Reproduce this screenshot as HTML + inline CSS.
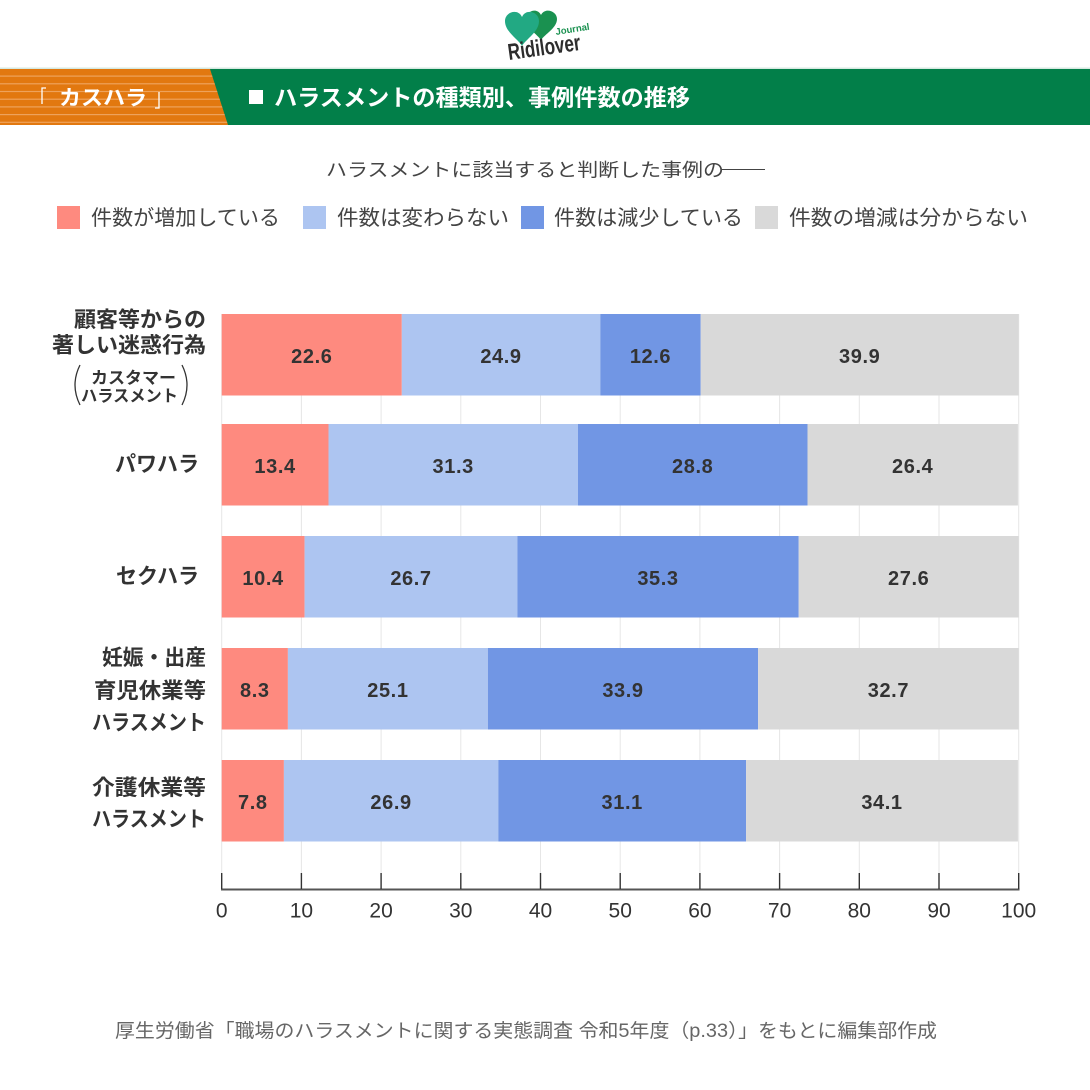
<!DOCTYPE html>
<html><head><meta charset="utf-8">
<style>
html,body{margin:0;padding:0;background:#fff;}
svg{display:block;}
text{font-family:"Liberation Sans","Noto Sans CJK JP",sans-serif;}
</style></head>
<body>
<svg width="1090" height="1090" viewBox="0 0 1090 1090" xmlns="http://www.w3.org/2000/svg">
<rect width="1090" height="1090" fill="#fff"/>
<defs>
<clipPath id="oc"><polygon points="0,69 210,69 228,125 0,125"/></clipPath>
</defs>

<!-- logo -->
<path d="M541,40 C537,34 526,28 526,19 C526,11 537,7 541,15 C545,7 557,11 557,19 C557,28 545,34 541,40 Z" fill="#1a9150"/>
<path d="M522,46 C518,39 505,32 505,21 C505,12 518,8 522,17 C526,8 539,12 539,21 C539,32 526,39 522,46 Z" fill="#22a983"/>
<text x="556" y="35" font-size="9.5" font-weight="700" fill="#1a9150" transform="rotate(-9 556 35)">Journal</text>
<text x="509" y="60" font-size="23" font-weight="700" fill="#2d2d2d" textLength="73" lengthAdjust="spacingAndGlyphs" transform="rotate(-8 509 60)">Ridilover</text>

<!-- header band -->
<rect x="0" y="67.5" width="1090" height="1.5" fill="#d6e9e0"/>
<rect x="0" y="69" width="1090" height="56" fill="#027f49"/>
<polygon points="0,69 210,69 228,125 0,125" fill="#e2780f"/>
<g clip-path="url(#oc)" fill="#eea25b">
<rect x="0" y="75.5" width="240" height="1.2"/>
<rect x="0" y="83.2" width="240" height="1.2"/>
<rect x="0" y="90.9" width="240" height="1.2"/>
<rect x="0" y="98.6" width="240" height="1.2"/>
<rect x="0" y="106.3" width="240" height="1.2"/>
<rect x="0" y="114" width="240" height="1.2"/>
<rect x="0" y="121.7" width="240" height="1.2"/>
</g>
<path d="M46,88 L42,88 L42,104" stroke="#fff" stroke-width="1.3" fill="none"/>
<path d="M155,108 L159,108 L159,92" stroke="#fff" stroke-width="1.3" fill="none"/>
<text x="59" y="105" font-size="21" font-weight="700" fill="#fff" textLength="88" lengthAdjust="spacingAndGlyphs">カスハラ</text>
<rect x="249" y="90" width="14" height="14" fill="#fff"/>
<text x="274" y="105.5" font-size="23" font-weight="700" fill="#fff" textLength="416" lengthAdjust="spacingAndGlyphs">ハラスメントの種類別、事例件数の推移</text>

<!-- subtitle -->
<text x="326" y="176.5" font-size="18.5" fill="#444" textLength="398" lengthAdjust="spacingAndGlyphs">ハラスメントに該当すると判断した事例の</text>
<line x1="722" y1="169.5" x2="765" y2="169.5" stroke="#444" stroke-width="1.1"/>

<!-- legend -->
<rect x="57" y="206" width="23" height="23" fill="#fe8a7f"/>
<text x="91" y="225" font-size="21" fill="#444" textLength="189" lengthAdjust="spacingAndGlyphs">件数が増加している</text>
<rect x="303" y="206" width="23" height="23" fill="#adc5f1"/>
<text x="337" y="225" font-size="21" fill="#444" textLength="172" lengthAdjust="spacingAndGlyphs">件数は変わらない</text>
<rect x="521" y="206" width="23" height="23" fill="#7196e4"/>
<text x="554" y="225" font-size="21" fill="#444" textLength="189" lengthAdjust="spacingAndGlyphs">件数は減少している</text>
<rect x="755" y="206" width="23" height="23" fill="#d9d9d9"/>
<text x="789" y="225" font-size="21" fill="#444" textLength="239" lengthAdjust="spacingAndGlyphs">件数の増減は分からない</text>

<!-- gridlines -->
<g stroke="#e6e6e6" stroke-width="1">
<line x1="221.7" y1="314" x2="221.7" y2="873"/>
<line x1="301.4" y1="314" x2="301.4" y2="873"/>
<line x1="381.1" y1="314" x2="381.1" y2="873"/>
<line x1="460.8" y1="314" x2="460.8" y2="873"/>
<line x1="540.5" y1="314" x2="540.5" y2="873"/>
<line x1="620.2" y1="314" x2="620.2" y2="873"/>
<line x1="699.9" y1="314" x2="699.9" y2="873"/>
<line x1="779.6" y1="314" x2="779.6" y2="873"/>
<line x1="859.3" y1="314" x2="859.3" y2="873"/>
<line x1="939.0" y1="314" x2="939.0" y2="873"/>
<line x1="1018.7" y1="314" x2="1018.7" y2="873"/>
</g>

<!-- bars -->
<g>
<rect x="221.7" y="314" width="180.1" height="81.5" fill="#fe8a7f"/>
<rect x="401.8" y="314" width="198.5" height="81.5" fill="#adc5f1"/>
<rect x="600.3" y="314" width="100.4" height="81.5" fill="#7196e4"/>
<rect x="700.7" y="314" width="318" height="81.5" fill="#d9d9d9"/>

<rect x="221.7" y="424" width="106.8" height="81.5" fill="#fe8a7f"/>
<rect x="328.5" y="424" width="249.5" height="81.5" fill="#adc5f1"/>
<rect x="578.0" y="424" width="229.5" height="81.5" fill="#7196e4"/>
<rect x="807.5" y="424" width="210.4" height="81.5" fill="#d9d9d9"/>

<rect x="221.7" y="536" width="82.9" height="81.5" fill="#fe8a7f"/>
<rect x="304.6" y="536" width="212.8" height="81.5" fill="#adc5f1"/>
<rect x="517.4" y="536" width="281.3" height="81.5" fill="#7196e4"/>
<rect x="798.7" y="536" width="220" height="81.5" fill="#d9d9d9"/>

<rect x="221.7" y="648" width="66.2" height="81.5" fill="#fe8a7f"/>
<rect x="287.9" y="648" width="200" height="81.5" fill="#adc5f1"/>
<rect x="487.9" y="648" width="270.2" height="81.5" fill="#7196e4"/>
<rect x="758.1" y="648" width="260.6" height="81.5" fill="#d9d9d9"/>

<rect x="221.7" y="760" width="62.2" height="81.5" fill="#fe8a7f"/>
<rect x="283.9" y="760" width="214.4" height="81.5" fill="#adc5f1"/>
<rect x="498.3" y="760" width="247.8" height="81.5" fill="#7196e4"/>
<rect x="746.1" y="760" width="271.8" height="81.5" fill="#d9d9d9"/>
</g>

<!-- value labels -->
<g font-size="20" font-weight="700" fill="#333" text-anchor="middle" letter-spacing="0.6">
<text x="311.8" y="363">22.6</text>
<text x="501" y="363">24.9</text>
<text x="650.5" y="363">12.6</text>
<text x="859.7" y="363">39.9</text>

<text x="275.1" y="473">13.4</text>
<text x="453.2" y="473">31.3</text>
<text x="692.7" y="473">28.8</text>
<text x="912.7" y="473">26.4</text>

<text x="263.1" y="585">10.4</text>
<text x="411" y="585">26.7</text>
<text x="658" y="585">35.3</text>
<text x="908.7" y="585">27.6</text>

<text x="254.8" y="697">8.3</text>
<text x="387.9" y="697">25.1</text>
<text x="623" y="697">33.9</text>
<text x="888.4" y="697">32.7</text>

<text x="252.8" y="809">7.8</text>
<text x="391.1" y="809">26.9</text>
<text x="622.2" y="809">31.1</text>
<text x="882" y="809">34.1</text>
</g>

<!-- row labels -->
<g font-weight="700" fill="#333" font-size="21.5">
<text x="74" y="327" textLength="132" lengthAdjust="spacingAndGlyphs">顧客等からの</text>
<text x="52" y="352.5" textLength="154" lengthAdjust="spacingAndGlyphs">著しい迷惑行為</text>
<text x="115" y="471.5" textLength="84" lengthAdjust="spacingAndGlyphs">パワハラ</text>
<text x="116" y="583.5" textLength="83" lengthAdjust="spacingAndGlyphs">セクハラ</text>
<text x="102" y="665" textLength="104" lengthAdjust="spacingAndGlyphs">妊娠・出産</text>
<text x="94" y="698" textLength="112" lengthAdjust="spacingAndGlyphs">育児休業等</text>
<text x="92" y="730" textLength="114" lengthAdjust="spacingAndGlyphs">ハラスメント</text>
<text x="92" y="795" textLength="114" lengthAdjust="spacingAndGlyphs">介護休業等</text>
<text x="92" y="826.5" textLength="114" lengthAdjust="spacingAndGlyphs">ハラスメント</text>
</g>
<g font-weight="700" fill="#333" font-size="16.5">
<text x="91" y="383.5" textLength="85" lengthAdjust="spacingAndGlyphs">カスタマー</text>
<text x="81" y="401.5" textLength="97" lengthAdjust="spacingAndGlyphs">ハラスメント</text>
</g>
<path d="M80,365 Q70,385 80,405" stroke="#333" stroke-width="1.3" fill="none"/>
<path d="M182,365 Q192,385 182,405" stroke="#333" stroke-width="1.3" fill="none"/>

<!-- axis -->
<line x1="221" y1="889.5" x2="1019.5" y2="889.5" stroke="#555" stroke-width="2"/>
<g stroke="#333" stroke-width="1.4">
<line x1="221.7" y1="873" x2="221.7" y2="889"/>
<line x1="301.4" y1="873" x2="301.4" y2="889"/>
<line x1="381.1" y1="873" x2="381.1" y2="889"/>
<line x1="460.8" y1="873" x2="460.8" y2="889"/>
<line x1="540.5" y1="873" x2="540.5" y2="889"/>
<line x1="620.2" y1="873" x2="620.2" y2="889"/>
<line x1="699.9" y1="873" x2="699.9" y2="889"/>
<line x1="779.6" y1="873" x2="779.6" y2="889"/>
<line x1="859.3" y1="873" x2="859.3" y2="889"/>
<line x1="939.0" y1="873" x2="939.0" y2="889"/>
<line x1="1018.7" y1="873" x2="1018.7" y2="889"/>
</g>
<g font-size="21" fill="#333" text-anchor="middle">
<text x="221.7" y="917.5">0</text>
<text x="301.4" y="917.5">10</text>
<text x="381.1" y="917.5">20</text>
<text x="460.8" y="917.5">30</text>
<text x="540.5" y="917.5">40</text>
<text x="620.2" y="917.5">50</text>
<text x="699.9" y="917.5">60</text>
<text x="779.6" y="917.5">70</text>
<text x="859.3" y="917.5">80</text>
<text x="939.0" y="917.5">90</text>
<text x="1018.7" y="917.5">100</text>
</g>

<!-- footer -->
<text x="115" y="1037" font-size="19" fill="#666" textLength="822" lengthAdjust="spacingAndGlyphs">厚生労働省「職場のハラスメントに関する実態調査 令和5年度（p.33）」をもとに編集部作成</text>
</svg>
</body></html>
